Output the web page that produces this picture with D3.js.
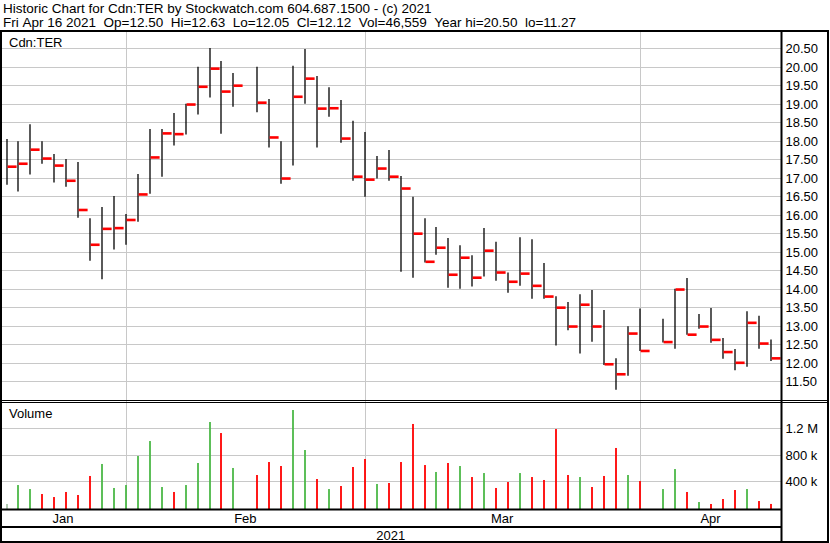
<!DOCTYPE html>
<html><head><meta charset="utf-8">
<script src="https://cdn.jsdelivr.net/npm/d3@7"></script>
<style>
html,body{margin:0;padding:0;background:#fff;}
svg{display:block;font-family:"Liberation Sans",Arial,sans-serif;}
</style></head>
<body>
<svg id="c" width="830" height="543"></svg>
<script>
// ---- data ----
const headerLine1 = "Historic Chart for Cdn:TER by Stockwatch.com 604.687.1500 - (c) 2021";
const headerLine2 = "Fri Apr 16 2021  Op=12.50  Hi=12.63  Lo=12.05  Cl=12.12  Vol=46,559  Year hi=20.50  lo=11.27";
const symbol = "Cdn:TER";
const dates = [
 "2021-01-18","2021-01-19","2021-01-20","2021-01-21","2021-01-22","2021-01-25","2021-01-26","2021-01-27","2021-01-28","2021-01-29",
 "2021-02-01","2021-02-02","2021-02-03","2021-02-04","2021-02-05","2021-02-08","2021-02-09","2021-02-10","2021-02-11","2021-02-12",
 "2021-02-16","2021-02-17","2021-02-18","2021-02-19","2021-02-22","2021-02-23","2021-02-24","2021-02-25","2021-02-26",
 "2021-03-01","2021-03-02","2021-03-03","2021-03-04","2021-03-05","2021-03-08","2021-03-09","2021-03-10","2021-03-11","2021-03-12",
 "2021-03-15","2021-03-16","2021-03-17","2021-03-18","2021-03-19","2021-03-22","2021-03-23","2021-03-24","2021-03-25","2021-03-26",
 "2021-03-29","2021-03-30","2021-03-31","2021-04-01","2021-04-05","2021-04-06","2021-04-07","2021-04-08","2021-04-09",
 "2021-04-12","2021-04-13","2021-04-14","2021-04-15","2021-04-16"];
const highs = [18.05,17.99,18.45,17.99,17.64,17.51,17.43,15.91,16.21,16.51,
 16.02,17.10,18.32,18.32,18.75,19.00,20.00,20.51,20.16,19.83,
 20.00,19.13,17.99,20.03,20.48,19.75,19.45,19.10,18.54,
 18.24,17.59,17.75,17.05,16.49,15.91,15.67,15.37,15.18,14.91,
 15.64,15.27,14.44,15.39,15.34,14.70,13.80,13.64,13.85,13.97,
 13.43,12.12,12.99,13.47,13.19,14.00,14.29,13.32,13.48,
 12.67,12.37,13.39,13.27,12.63];
const lows = [16.81,16.63,17.09,17.38,16.87,16.76,15.92,14.76,14.26,15.06,
 15.19,15.81,16.57,17.03,17.87,18.17,18.71,19.17,18.19,18.92,
 18.77,17.82,16.84,17.33,19.00,17.82,18.65,17.95,16.92,
 16.49,16.98,16.92,14.46,14.30,14.71,14.92,14.03,14.00,14.06,
 14.33,14.22,13.89,14.08,13.73,13.73,12.47,12.88,12.25,12.57,
 11.94,11.27,11.65,12.32,12.55,12.38,12.76,12.92,12.54,
 12.11,11.80,11.89,12.38,12.05];
const closes = [17.30,17.38,17.76,17.52,17.33,16.92,16.13,15.19,15.62,15.64,
 15.86,16.55,17.55,18.20,18.18,18.98,19.46,19.95,19.33,19.49,
 19.03,18.09,16.98,19.19,19.68,18.87,18.88,18.06,17.03,
 16.95,17.25,17.03,16.71,15.49,14.73,15.11,14.38,14.84,14.30,
 15.03,14.44,14.19,14.41,14.08,13.79,13.49,12.98,13.57,12.98,
 11.96,11.69,12.79,12.32,12.56,13.98,12.76,12.98,12.62,
 12.29,12.00,13.08,12.52,12.12];
const volumes = [46000,335000,274000,198000,152000,229000,183000,473000,656000,290000,
 335000,778000,1006000,305000,229000,335000,671000,1296000,1128000,595000,
 488000,686000,625000,1479000,869000,427000,274000,320000,610000,
 732000,351000,366000,686000,1266000,640000,534000,671000,625000,457000,
 518000,290000,381000,518000,457000,412000,1189000,488000,457000,305000,
 473000,900000,488000,396000,274000,579000,229000,76000,46000,122000,
 259000,274000,91000,46559];
const priceTicks = [11.5,12,12.5,13,13.5,14,14.5,15,15.5,16,16.5,17,17.5,18,18.5,19,19.5,20,20.5];
const volTicks = [400000,800000,1200000];
const volTickLabels = ["400 k","800 k","1.2 M"];
const monthStarts = ["2021-02-01","2021-03-01","2021-04-01"];
const monthLabels = ["Jan","Feb","Mar","Apr"];
const yearLabel = "2021";

// ---- layout ----
const parse = d3.timeParse("%Y-%m-%d");
const start = parse(dates[0]);
function wIdx(s){ const d = parse(s); const n = d3.timeDay.count(start, d); return Math.floor(n/7)*5 + (n%7); }
const L = 1, R = 828, AX = 781.5, TOP = 31, BOT = 542;
const PB = 400.5, VT = 402.5, VB = 509.5, YB = 527;

const x = d3.scaleLinear().domain([0, wIdx(dates[dates.length-1])]).range([6.5, 770.9]);
const yP = d3.scaleLinear().domain([11.5, 20.5]).range([381.3, 48.3]);
const yV = d3.scaleLinear().domain([0, 1200000]).range([507, 428.3]);

const svg = d3.select("#c");
const FS = 12.6;
const HFS = 13.5;
const nb = s => s.replace(/ /g, "\u00a0");

// header
svg.append("text").attr("x",3).attr("y",12.5).attr("font-size",HFS).attr("fill","#000").text(nb(headerLine1));
svg.append("text").attr("x",3).attr("y",26.5).attr("font-size",HFS).attr("fill","#000").text(nb(headerLine2));

const grid = "#c8c8c8";
// price gridlines
svg.append("g").selectAll("line").data(priceTicks).join("line")
  .attr("x1",L).attr("x2",AX).attr("y1",d=>Math.round(yP(d))+0.5).attr("y2",d=>Math.round(yP(d))+0.5)
  .attr("stroke",grid).attr("stroke-width",1);
// volume gridlines
svg.append("g").selectAll("line").data(volTicks).join("line")
  .attr("x1",L).attr("x2",AX).attr("y1",d=>Math.round(yV(d))+0.5).attr("y2",d=>Math.round(yV(d))+0.5)
  .attr("stroke",grid).attr("stroke-width",1);
// month gridlines
const msX = monthStarts.map(s=>x(wIdx(s)));
svg.append("g").selectAll("line").data(msX).join("line")
  .attr("x1",d=>Math.round(d)+0.5).attr("x2",d=>Math.round(d)+0.5).attr("y1",TOP).attr("y2",VB)
  .attr("stroke",grid).attr("stroke-width",1);

// OHLC bars
const bars = svg.append("g");
dates.forEach((d,i)=>{
  const xi = Math.round(x(wIdx(d)));
  bars.append("line").attr("x1",xi).attr("x2",xi).attr("y1",yP(highs[i])).attr("y2",yP(lows[i]))
    .attr("stroke","#000").attr("stroke-width",1.3);
  bars.append("rect").attr("x",xi+0.6).attr("y",yP(closes[i])-1.3).attr("width",9).attr("height",2.6).attr("fill","#ff0000");
});
// volume bars
const vb = svg.append("g");
dates.forEach((d,i)=>{
  const xi = Math.round(x(wIdx(d)));
  let col = i===0 ? "#a9c4a9" : (closes[i] >= closes[i-1] ? "#4cb848" : "#ff0000");
  vb.append("rect").attr("x",xi-0.9).attr("y",yV(volumes[i])).attr("width",1.8).attr("height",VB-yV(volumes[i]))
    .attr("fill",col);
});

// labels
svg.append("text").attr("x",9).attr("y",47).attr("font-size",FS+0.4).attr("fill","#000").text(symbol);
svg.append("text").attr("x",9).attr("y",418).attr("font-size",FS+0.4).attr("fill","#000").text("Volume");

// price axis
const pa = svg.append("g").attr("transform",`translate(${AX+4},0)`)
  .call(d3.axisRight(yP).tickValues(priceTicks).tickFormat(d3.format(".2f")).tickSize(0).tickPadding(0));
pa.select(".domain").remove();
pa.selectAll("text").attr("font-size",FS+0.4).attr("font-family","'Liberation Sans',Arial,sans-serif").attr("fill","#000").attr("dy","0.36em");
// volume axis
const va = svg.append("g").attr("transform",`translate(${AX+4},0)`)
  .call(d3.axisRight(yV).tickValues(volTicks).tickFormat((d,i)=>nb(volTickLabels[i])).tickSize(0).tickPadding(0));
va.select(".domain").remove();
va.selectAll("text").attr("font-size",FS+0.4).attr("font-family","'Liberation Sans',Arial,sans-serif").attr("fill","#000").attr("dy","0.36em");

// month labels
const bounds = [0, ...msX, AX];
svg.append("g").selectAll("text").data(monthLabels).join("text")
  .attr("x",(d,i)=>(bounds[i]+bounds[i+1])/2).attr("y",523).attr("text-anchor","middle")
  .attr("font-size",FS+0.4).attr("fill","#000").text(d=>d);
svg.append("text").attr("x",AX/2).attr("y",540).attr("text-anchor","middle").attr("font-size",FS+0.4).attr("fill","#000").text(yearLabel);

// frame lines
const k = "#000";
svg.append("rect").attr("x",L).attr("y",TOP).attr("width",R-L).attr("height",BOT-TOP).attr("fill","none").attr("stroke",k).attr("stroke-width",2);
svg.append("line").attr("x1",AX).attr("x2",AX).attr("y1",TOP).attr("y2",BOT).attr("stroke",k).attr("stroke-width",2);
svg.append("line").attr("x1",L).attr("x2",R).attr("y1",PB).attr("y2",PB).attr("stroke",k).attr("stroke-width",1);
svg.append("line").attr("x1",L).attr("x2",R).attr("y1",VT).attr("y2",VT).attr("stroke",k).attr("stroke-width",1);
svg.append("line").attr("x1",L).attr("x2",AX).attr("y1",VB).attr("y2",VB).attr("stroke",k).attr("stroke-width",2);
svg.append("line").attr("x1",L).attr("x2",AX).attr("y1",YB).attr("y2",YB).attr("stroke",k).attr("stroke-width",2);
</script>
</body></html>
